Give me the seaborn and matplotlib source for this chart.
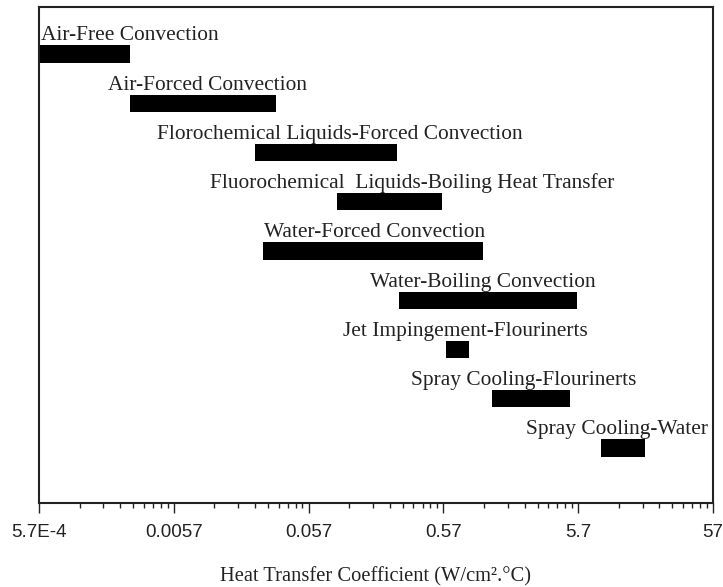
import numpy as np
import pandas as pd
import matplotlib
matplotlib.use("Agg")
import matplotlib.pyplot as plt
from matplotlib.ticker import FixedLocator, FixedFormatter, NullFormatter
import seaborn as sns

# ---- data ----
categories = [
    "Air-Free Convection",
    "Air-Forced Convection",
    "Florochemical Liquids-Forced Convection",
    "Fluorochemical  Liquids-Boiling Heat Transfer",
    "Water-Forced Convection",
    "Water-Boiling Convection",
    "Jet Impingement-Flourinerts",
    "Spray Cooling-Flourinerts",
    "Spray Cooling-Water",
]
range_low = [0.00057, 0.0027, 0.0229, 0.092, 0.0263, 0.265, 0.60, 1.30, 8.4]
range_high = [0.0027, 0.0328, 0.26, 0.553, 1.12, 5.6, 0.88, 4.95, 17.8]
tick_values = [5.7e-4, 0.0057, 0.057, 0.57, 5.7, 57]
tick_labels = ["5.7E-4", "0.0057", "0.057", "0.57", "5.7", "57"]
x_label = "Heat Transfer Coefficient (W/cm\u00b2.\u00b0C)"

# ---- layout (pixel tweaks for label placement) ----
label_dx_px = [2, 4, 13, 23, 1, -5, 8, -7, -6]

sns.set_theme(style="ticks")
plt.rcParams["font.family"] = ["Liberation Serif", "DejaVu Serif"]

df = pd.DataFrame({
    "category": categories,
    "low": range_low,
    "high": range_high,
})
df["span"] = df["high"] - df["low"]

fig = plt.figure(figsize=(7.23, 5.87), dpi=100)
ax = fig.add_axes([39 / 723, 1 - 503 / 587, (713 - 39) / 723, (503 - 7) / 587])

sns.barplot(data=df, x="span", y="category", orient="h", color="black",
            errorbar=None, width=0.35, left=df["low"].to_numpy(),
            edgecolor="black", linewidth=0, ax=ax)

ax.set_xscale("log")
ax.set_xlim(tick_values[0], tick_values[-1])
ax.set_ylim(9.117, -0.954)

# ticks
ax.xaxis.set_major_locator(FixedLocator(tick_values))
ax.xaxis.set_major_formatter(FixedFormatter(tick_labels))
minor = [v * m for v in tick_values[:-1] for m in range(2, 10)]
ax.xaxis.set_minor_locator(FixedLocator(minor))
ax.xaxis.set_minor_formatter(NullFormatter())
ax.tick_params(axis="x", which="major", direction="out", length=7, width=1.0,
               pad=8, labelsize=13.5, colors="#222222")
ax.tick_params(axis="x", which="minor", direction="out", length=3.6, width=1.0,
               colors="#222222")
for lab in ax.get_xticklabels():
    lab.set_family(["Liberation Sans", "DejaVu Sans"])
ax.set_yticks([])
ax.set_ylabel("")
ax.set_xlabel(x_label, fontsize=14.8, labelpad=19, color="#222222")

for s in ax.spines.values():
    s.set_visible(True)
    s.set_color("#222222")
    s.set_linewidth(1.5)

# labels above bars
for i, (name, lo, hi) in enumerate(zip(categories, range_low, range_high)):
    bar_top = i - 0.35 / 2
    if i == 0:
        ax.annotate(name, xy=(lo, bar_top), xytext=(label_dx_px[i] * 0.72, 3.6),
                    textcoords="offset points", ha="left", va="baseline",
                    fontsize=15.4, color="#222222")
    else:
        center = np.sqrt(lo * hi)
        ax.annotate(name, xy=(center, bar_top), xytext=(label_dx_px[i] * 0.72, 3.6),
                    textcoords="offset points", ha="center", va="baseline",
                    fontsize=15.4, color="#222222")

fig.savefig("out.png", dpi=100)
